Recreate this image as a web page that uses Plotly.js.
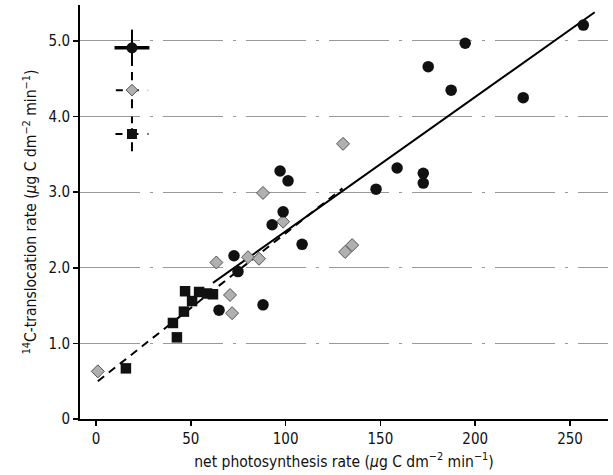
<!DOCTYPE html>
<html><head><meta charset="utf-8">
<script src="https://cdn.plot.ly/plotly-3.0.1.min.js"></script>
<style>body{margin:0;background:#fff}#c{width:613px;height:475px}</style>
</head><body><div id="c"></div>
<script>
// circles (black)
const circX = [257, 194.7, 175.2, 187.3, 225.3, 158.8, 172.6, 172.6, 147.7, 108.7, 97.1, 101.3, 98.7, 92.9, 72.8, 74.9, 64.9, 88.1];
const circY = [5.21, 4.97, 4.66, 4.35, 4.25, 3.32, 3.25, 3.12, 3.04, 2.31, 3.28, 3.15, 2.74, 2.57, 2.16, 1.95, 1.44, 1.51];
// squares (black)
const sqX = [47.0, 50.7, 46.4, 40.6, 42.7, 15.8, 54.4, 58.6, 61.7];
const sqY = [1.69, 1.56, 1.42, 1.27, 1.08, 0.67, 1.68, 1.66, 1.65];
// diamonds (grey)
const diaX = [1, 63.5, 70.7, 71.8, 80.2, 86.0, 88.1, 98.7, 130.3, 131.4, 135.1];
const diaY = [0.63, 2.07, 1.64, 1.40, 2.14, 2.12, 2.99, 2.61, 3.64, 2.21, 2.30];
// regression lines (end points)
const solidX = [61.7, 263];
const solidY = [1.80, 5.38];
const dashX = [1, 130];
const dashY = [0.50, 3.05];
// error-bar key (top left)
const keyX = [19, 19, 19];
const keyY = [4.91, 4.35, 3.77];
const keyErrX = [9.2, 8.5, 8.7];
const keyErrY = [0.24, 0.24, 0.23];

const font = "DejaVu Sans Condensed, Liberation Sans Narrow, Arial Narrow, sans-serif";
const traces = [];
for (let i = 1; i < 3; i++) {
  traces.push({x:[keyX[i]-keyErrX[i], keyX[i]+keyErrX[i]], y:[keyY[i], keyY[i]], mode:'lines',
    line:{color:'#000', width:2, dash:'7px,9px'}, showlegend:false, hoverinfo:'skip'});
  traces.push({x:[keyX[i], keyX[i]], y:[keyY[i]-keyErrY[i], keyY[i]+keyErrY[i]], mode:'lines',
    line:{color:'#000', width:2, dash:'9px,5px'}, showlegend:false, hoverinfo:'skip'});
}
traces.push({x:solidX, y:solidY, mode:'lines', line:{color:'#000', width:2}, showlegend:false});
traces.push({x:dashX, y:dashY, mode:'lines', line:{color:'#000', width:2, dash:'8px,6px'}, showlegend:false});
traces.push({x:diaX, y:diaY, mode:'markers', marker:{symbol:'diamond', size:10, color:'#b0b0b0', line:{color:'#555', width:1}}, showlegend:false});
traces.push({x:sqX, y:sqY, mode:'markers', marker:{symbol:'square', size:10.5, color:'#111'}, showlegend:false});
traces.push({x:circX, y:circY, mode:'markers', marker:{symbol:'circle', size:11.5, color:'#111'}, showlegend:false});
traces.push({x:[keyX[0]], y:[keyY[0]], mode:'markers', marker:{symbol:'circle', size:11, color:'#111'},
  error_x:{type:'data', array:[keyErrX[0]], color:'#000', thickness:3.5, width:0},
  error_y:{type:'data', array:[keyErrY[0]], color:'#000', thickness:2, width:0}, showlegend:false});
traces.push({x:[keyX[1]], y:[keyY[1]], mode:'markers', marker:{symbol:'diamond', size:9, color:'#b0b0b0', line:{color:'#555', width:1}}, showlegend:false});
traces.push({x:[keyX[2]], y:[keyY[2]], mode:'markers', marker:{symbol:'square', size:10, color:'#111'}, showlegend:false});

const layout = {
  width:613, height:475,
  margin:{l:80, r:5, t:5, b:56},
  paper_bgcolor:'#fff', plot_bgcolor:'#fff',
  font:{family:font, size:15, color:'#111'},
  xaxis:{range:[-8.4, 270], tickvals:[0,50,100,150,200,250], ticktext:['0','50','100','150','200','250'],
    ticks:'outside', ticklen:5, tickwidth:1.5, tickcolor:'#000', showgrid:false, zeroline:false,
    showline:true, linecolor:'#000', linewidth:1.5,
    title:{text:'net photosynthesis rate (<i>μ</i>g C dm<sup>−2</sup> min<sup>−1</sup>)', font:{size:15.5}, standoff:9}},
  yaxis:{range:[0, 5.476], tickvals:[0,1,2,3,4,5], ticktext:['0','1.0','2.0','3.0','4.0','5.0'],
    ticks:'outside', ticklen:5, tickwidth:1.5, tickcolor:'#000', showgrid:true, gridcolor:'#999', gridwidth:1,
    griddash:'60px,10px,3px,10px', zeroline:false, showline:true, linecolor:'#000', linewidth:2,
    title:{text:'<sup>14</sup>C-translocation rate (<i>μ</i>g C dm<sup>−2</sup> min<sup>−1</sup>)', font:{size:15.5}, standoff:8}}
};
Plotly.newPlot('c', traces, layout, {displayModeBar:false, staticPlot:true});
</script></body></html>
